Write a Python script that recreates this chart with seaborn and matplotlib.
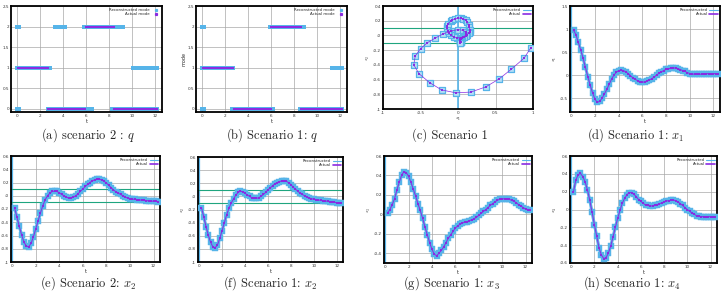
import numpy as np
import pandas as pd
import matplotlib
matplotlib.use("Agg")
import matplotlib.pyplot as plt
import seaborn as sns
from matplotlib.lines import Line2D
from matplotlib.ticker import FuncFormatter

# ---------------- data ----------------
# sampled time instants of the state trajectories
t = np.round(np.arange(0.2, 12.41, 0.2), 2)

x1_s1 = [0.97, 0.88, 0.71, 0.55, 0.37, 0.17, -0.03, -0.22, -0.38, -0.52,
         -0.59, -0.57, -0.50, -0.41, -0.31, -0.20, -0.09, 0.00, 0.06, 0.10,
         0.11, 0.10, 0.07, 0.035, -0.01, -0.06, -0.09, -0.12, -0.14, -0.15,
         -0.15, -0.13, -0.10, -0.08, -0.04, 0.00, 0.04, 0.07, 0.10, 0.125,
         0.14, 0.15, 0.155, 0.155, 0.14, 0.12, 0.10, 0.08, 0.055, 0.035,
         0.025, 0.02, 0.02, 0.02, 0.02, 0.025, 0.03, 0.035, 0.035, 0.035,
         0.03, 0.03]

x2_s1 = [-0.17, -0.31, -0.46, -0.59, -0.70, -0.77, -0.78, -0.74, -0.64, -0.52,
         -0.40, -0.28, -0.18, -0.10, -0.04, 0.02, 0.06, 0.08, 0.07, 0.05,
         0.02, 0.00, -0.02, -0.03, -0.03, -0.02, 0.00, 0.03, 0.06, 0.10,
         0.13, 0.16, 0.19, 0.21, 0.225, 0.235, 0.235, 0.23, 0.21, 0.18,
         0.14, 0.11, 0.08, 0.05, 0.03, 0.01, -0.01, -0.025, -0.035, -0.045,
         -0.05, -0.055, -0.06, -0.065, -0.07, -0.075, -0.08, -0.085, -0.09, -0.095,
         -0.10, -0.10]

x2_s2 = [-0.18, -0.32, -0.46, -0.59, -0.70, -0.76, -0.77, -0.72, -0.62, -0.50,
         -0.38, -0.26, -0.15, -0.06, 0.00, 0.04, 0.065, 0.07, 0.065, 0.045,
         0.02, 0.00, -0.02, -0.035, -0.035, -0.02, 0.00, 0.03, 0.07, 0.10,
         0.14, 0.17, 0.20, 0.225, 0.24, 0.25, 0.25, 0.24, 0.22, 0.19,
         0.16, 0.12, 0.09, 0.06, 0.04, 0.02, 0.00, -0.02, -0.035, -0.045,
         -0.05, -0.055, -0.06, -0.063, -0.066, -0.07, -0.073, -0.076, -0.08, -0.083,
         -0.086, -0.09]

x3_s1 = [0.01, 0.05, 0.10, 0.16, 0.25, 0.33, 0.40, 0.44, 0.43, 0.39,
         0.33, 0.26, 0.19, 0.11, 0.04, -0.04, -0.13, -0.21, -0.29, -0.36,
         -0.41, -0.425, -0.40, -0.37, -0.335, -0.29, -0.245, -0.21, -0.175, -0.14,
         -0.12, -0.10, -0.09, -0.08, -0.075, -0.065, -0.055, -0.045, -0.03, -0.01,
         0.01, 0.03, 0.05, 0.07, 0.095, 0.11, 0.13, 0.145, 0.155, 0.16,
         0.16, 0.16, 0.155, 0.145, 0.135, 0.12, 0.10, 0.085, 0.07, 0.055,
         0.045, 0.04]

x4_s1 = [0.20, 0.33, 0.39, 0.405, 0.37, 0.31, 0.22, 0.105, -0.03, -0.17,
         -0.30, -0.43, -0.51, -0.55, -0.54, -0.49, -0.41, -0.31, -0.20, -0.10,
         -0.01, 0.07, 0.125, 0.165, 0.19, 0.19, 0.17, 0.145, 0.11, 0.09,
         0.07, 0.05, 0.045, 0.04, 0.04, 0.045, 0.055, 0.065, 0.075, 0.085,
         0.095, 0.10, 0.105, 0.105, 0.10, 0.085, 0.065, 0.045, 0.02, 0.00,
         -0.02, -0.04, -0.055, -0.07, -0.075, -0.08, -0.08, -0.08, -0.08, -0.08,
         -0.08, -0.08]

# mode segments (start time, end time, mode)
mode_s2_actual = [(0.1, 2.7, 1), (2.7, 5.95, 0), (5.95, 8.4, 2), (8.4, 12.2, 0)]
mode_s2_recon = [(0.0, 0.2, 2), (0.0, 0.2, 0), (0.0, 2.9, 1), (2.7, 6.5, 0),
                 (3.3, 4.25, 2), (5.8, 9.2, 2), (8.3, 12.2, 0), (10.1, 12.2, 1)]
mode_s1_actual = [(0.1, 2.75, 1), (2.75, 6.0, 0), (6.0, 8.6, 2), (8.6, 12.2, 0)]
mode_s1_recon = [(0.0, 0.2, 2), (0.0, 0.25, 0), (0.0, 2.75, 1), (2.6, 6.2, 0),
                 (5.9, 8.9, 2), (8.45, 12.2, 0), (11.3, 12.2, 1)]

captions = [r"(a) scenario 2 : $q$", r"(b) Scenario 1: $q$", r"(c) Scenario 1",
            r"(d) Scenario 1: $x_1$", r"(e) Scenario 2: $x_2$", r"(f) Scenario 1: $x_2$",
            r"(g) Scenario 1: $x_3$", r"(h) Scenario 1: $x_4$"]

# ---------------- style ----------------
RECON = "#56b4e9"
RECON_FILL = "#b4def6"
ACTUAL = "#8a2be2"
GREEN = "#1fa57f"

sns.set_style("whitegrid", {"axes.edgecolor": "black", "grid.color": "#a8a8a8"})
plt.rcParams["mathtext.fontset"] = "cm"
plt.rcParams["axes.unicode_minus"] = False

W, H = 723, 294
fig = plt.figure(figsize=(W / 100, H / 100), dpi=100)


def add_ax(l, r, top, bot):
    return fig.add_axes([l / W, 1 - bot / H, (r - l) / W, (bot - top) / H])


fmt = FuncFormatter(lambda v, p: "%g" % round(v, 3))


def style(ax, xlim, ylim, xticks, yticks, xlabel, ylabel):
    ax.set_xlim(*xlim)
    ax.set_ylim(*ylim)
    ax.set_xticks(xticks)
    ax.set_yticks(yticks)
    ax.xaxis.set_major_formatter(fmt)
    ax.yaxis.set_major_formatter(fmt)
    ax.tick_params(labelsize=3, length=1.5, width=0.4, direction="in", pad=1.5,
                   colors="black", labelcolor="#333333")
    ax.set_xlabel(xlabel, fontsize=3.5, labelpad=0.5)
    ax.set_ylabel(ylabel, fontsize=3.5, labelpad=1)
    ax.grid(True, color="#a8a8a8", lw=0.5)
    for s in ax.spines.values():
        s.set_color("black")
        s.set_linewidth(1.3)


def legend(ax, labels, markers=False):
    if markers:
        h = [Line2D([], [], ls="none", marker="s", ms=1.3, color=RECON),
             Line2D([], [], ls="none", marker="s", ms=1.3, color=ACTUAL)]
    else:
        h = [Line2D([], [], color=RECON, lw=0.8), Line2D([], [], color=ACTUAL, lw=1.2)]
    ax.legend(h, labels, loc="upper right", fontsize=2.8, frameon=False, markerfirst=False,
              handlelength=2.2, handletextpad=0.4, labelspacing=0.05, borderpad=0.3,
              borderaxespad=0.2)


t_mode = np.round(np.arange(0, 12.25, 0.1), 2)


def seg_points(segs):
    xs, ys = [], []
    for a, b, q in segs:
        m = (t_mode >= a - 1e-9) & (t_mode <= b + 1e-9)
        xs.extend(t_mode[m])
        ys.extend([q] * int(m.sum()))
    return pd.DataFrame({"t": xs, "q": ys})


def mode_panel(ax, recon, actual, ylabel):
    dr = seg_points(recon)
    da = seg_points(actual)
    sns.scatterplot(data=dr, x="t", y="q", marker="s", s=6, color=RECON, linewidth=0,
                    ax=ax, legend=False, zorder=3)
    sns.scatterplot(data=da, x="t", y="q", marker="s", s=3, color=ACTUAL, linewidth=0,
                    ax=ax, legend=False, zorder=4)
    style(ax, (-0.5, 12.6), (-0.08, 2.5), range(0, 13, 2), np.arange(0, 2.51, 0.5),
          "t", ylabel)
    legend(ax, ["Reconstructed mode", "Actual mode"], markers=True)


def ts_panel(ax, col, ylim, yticks, ylabel, guards=False):
    ax.axvline(0, color=RECON, lw=1.6, zorder=2)
    if guards:
        ax.axhline(0.1, color=GREEN, lw=0.8, zorder=2)
        ax.axhline(-0.1, color=GREEN, lw=0.8, zorder=2)
    sns.lineplot(data=df, x="t", y=col, color=RECON, lw=2.2, ax=ax, legend=False, zorder=3)
    sns.scatterplot(data=df, x="t", y=col, marker="s", s=16, color=RECON, edgecolor=RECON,
                    linewidth=0.3, ax=ax, legend=False, zorder=3)
    sns.lineplot(data=df, x="t", y=col, color=ACTUAL, lw=0.7, ax=ax, legend=False, zorder=4)
    sns.scatterplot(data=df, x="t", y=col, marker="s", s=2.5, color=ACTUAL, linewidth=0,
                    ax=ax, legend=False, zorder=4)
    style(ax, (-0.1, 12.55), ylim, range(0, 13, 2), yticks, "t", ylabel)
    legend(ax, ["Reconstructed", "Actual"])


df = pd.DataFrame({"t": t, "x1": x1_s1, "x2s1": x2_s1, "x2s2": x2_s2,
                   "x3": x3_s1, "x4": x4_s1})

# (a)
ax = add_ax(11, 162, 6, 112)
mode_panel(ax, mode_s2_recon, mode_s2_actual, "")
# (b)
ax = add_ax(196, 347, 6, 112)
mode_panel(ax, mode_s1_recon, mode_s1_actual, "mode")

# (c) phase portrait
ax = add_ax(383, 533, 6, 109)
ax.axvline(0, color=RECON, lw=1.2, zorder=2)
ax.axhline(0.1, color=GREEN, lw=0.8, zorder=2)
ax.axhline(-0.1, color=GREEN, lw=0.8, zorder=2)
sns.scatterplot(data=df, x="x1", y="x2s1", marker="s", s=16, color=RECON_FILL,
                edgecolor=RECON, linewidth=0.9, ax=ax, legend=False, zorder=3)
sns.lineplot(data=df, x="x1", y="x2s1", sort=False, estimator=None, color=ACTUAL,
             lw=0.5, ax=ax, legend=False, zorder=4)
sns.scatterplot(data=df, x="x1", y="x2s1", marker="s", s=1.5, color=ACTUAL, linewidth=0,
                ax=ax, legend=False, zorder=5)
style(ax, (-1, 1), (-1, 0.4), np.arange(-1, 1.01, 0.5), np.arange(-1, 0.41, 0.2),
      r"$x_1$", r"$x_2$")
legend(ax, ["Reconstructed", "Actual"])

# (d)
ax = add_ax(570, 720, 6, 112)
ts_panel(ax, "x1", (-0.8, 1.5), np.arange(-0.5, 1.51, 0.5), r"$x_1$")
# (e)
ax = add_ax(11, 160, 156, 262)
ts_panel(ax, "x2s2", (-1, 0.6), np.arange(-1, 0.61, 0.2), "", guards=True)
# (f)
ax = add_ax(198, 343, 157, 262)
ts_panel(ax, "x2s1", (-1, 0.6), np.arange(-1, 0.61, 0.2), r"$x_2$", guards=True)
# (g)
ax = add_ax(384, 532, 156, 263)
ts_panel(ax, "x3", (-0.5, 0.6), np.arange(-0.4, 0.61, 0.2), r"$x_3$")
# (h)
ax = add_ax(570, 717, 156, 263)
ts_panel(ax, "x4", (-0.6, 0.6), np.arange(-0.6, 0.61, 0.2), r"$x_4$")

# captions
cap_pos = [(88, 135), (272, 135), (450, 135), (636, 135),
           (88, 283), (270, 283), (451, 283), (632, 283)]
for (cx, cy), txt in zip(cap_pos, captions):
    fig.text(cx / W, 1 - cy / H, txt, ha="center", va="center", fontsize=9,
             fontfamily="cmr10")

fig.savefig("out.png", dpi=100)
